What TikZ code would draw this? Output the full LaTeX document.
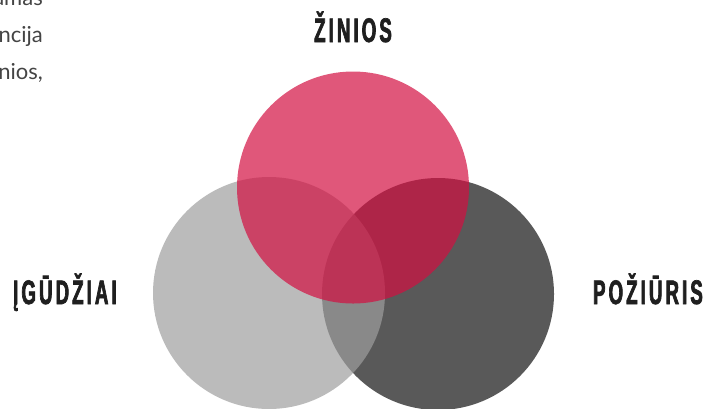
\documentclass[tikz,border=0pt]{standalone}
\usepackage{fontspec}
\newfontfamily\labelfont[FakeStretch=0.55,LetterSpace=9,FakeBold=2]{Liberation Sans Bold}
\newfontfamily\bodyfont{Lato}
\definecolor{roze}{RGB}{211,15,65}
\definecolor{sviesi}{RGB}{158,158,158}
\definecolor{tamsi}{RGB}{89,89,89}
\definecolor{tekstas}{RGB}{68,68,68}

\begin{document}
\begin{tikzpicture}[
    x=1pt, y=-1pt,
    every node/.style={inner sep=0pt},
    ratas/.style={
        circle,
        minimum size=232pt
    },
    zyme/.style={
        font=\labelfont\fontsize{34}{36}\selectfont,
        text=black!88,
        anchor=base
    },
    eilute/.style={
        font=\bodyfont\fontsize{22}{24}\selectfont,
        text=tekstas,
        anchor=base east
    }
]

    % page frame
    \clip (0,0) rectangle (703,408);

    % circles
    \node[ratas, fill=tamsi] (poz) at (438,294) {};
    \node[ratas, fill=sviesi, fill opacity=0.7] (igu) at (269,293) {};
    \node[ratas, fill=roze, fill opacity=0.7] (zin) at (353,187.5) {};

    % labels
    \node[zyme] (zinl) at (353,42) {ŽINIOS};
    \node[zyme, anchor=base west] (igul) at (13,304) {ĮGŪDŽIAI};
    \node[zyme, anchor=base east] (pozl) at (703,304) {POŽIŪRIS};

    % text cut at the edge
    \node[eilute] (e1) at (43,5) {amas};
    \node[eilute] (e2) at (43,42) {ncija};
    \node[eilute] (e3) at (43,79) {nios,};

\end{tikzpicture}
\end{document}
